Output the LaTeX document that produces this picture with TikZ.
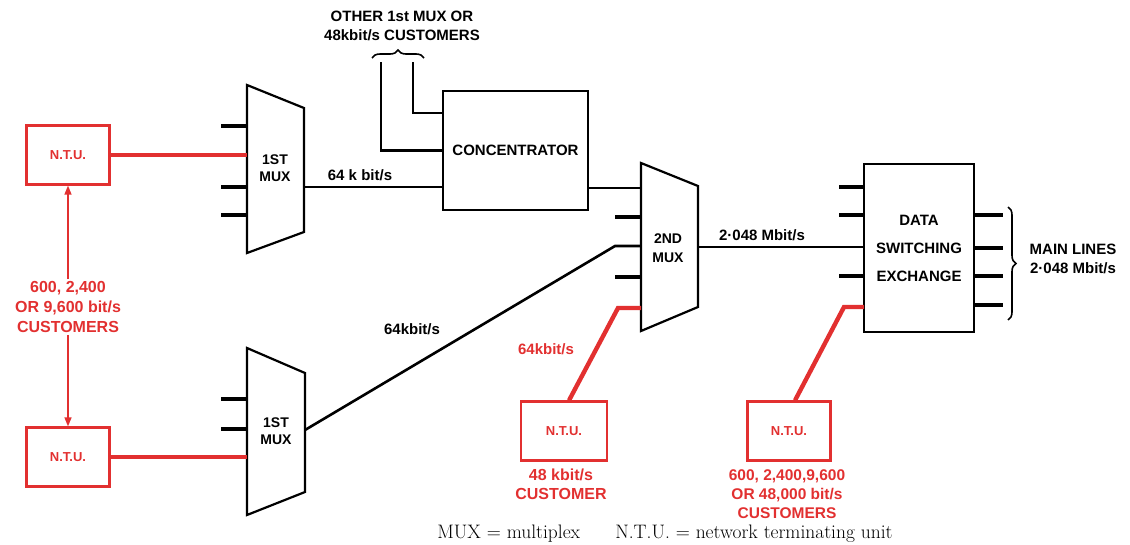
\documentclass[tikz,border=0pt]{standalone}
\usepackage{fontspec}
\newfontfamily\lbl{Liberation Sans}
\usetikzlibrary{arrows.meta,decorations.pathreplacing}
\definecolor{ntuR}{RGB}{226,48,48}

\begin{document}
\begin{tikzpicture}[
  x=1pt, y=-1pt,
  box/.style={draw, line width=2.2pt, align=center, inner sep=0pt, font=\lbl\bfseries\fontsize{15}{28}\selectfont},
  ntu/.style={draw=ntuR, text=ntuR, line width=2.2pt, minimum width=83pt, minimum height=59pt, font=\lbl\bfseries\fontsize{13}{15}\selectfont},
  mux/.style={line width=2.2pt, line join=miter},
  tag/.style={font=\lbl\bfseries\fontsize{15}{19}\selectfont, align=center, inner sep=2pt},
  rtag/.style={tag, text=ntuR},
  stub/.style={line width=3.8pt},
  wire/.style={line width=2.6pt},
  rwire/.style={draw=ntuR, line width=4.4pt},
  rarr/.style={draw=ntuR, line width=1.4pt, -{Triangle[length=9pt,width=7pt]}},
  brc/.style={decorate, decoration={brace, amplitude=8pt}, line width=1.6pt}
]
\useasboundingbox (0,0) rectangle (1130,544);

% customer side N.T.U.s
\node[ntu] (ntuA) at (68,155) {N.T.U.};
\node[ntu] (ntuB) at (68,457) {N.T.U.};
\node[rtag, font=\lbl\bfseries\fontsize{16}{20}\selectfont] (custA) at (68,307) {600, 2,400\\OR 9,600 bit/s\\CUSTOMERS};
\draw[rarr] (custA.north) -- (ntuA.south);
\draw[rarr] (custA.south) -- (ntuB.north);

% first multiplexers
\draw[mux] (247,85) -- (304,108) -- (304,232) -- (247,253) -- cycle;
\node[tag, font=\lbl\bfseries\fontsize{14}{17}\selectfont] (muxA) at (275,168) {1ST\\MUX};
\draw[mux] (247,348) -- (305,373) -- (305,492) -- (247,515) -- cycle;
\node[tag, font=\lbl\bfseries\fontsize{14}{17}\selectfont] (muxB) at (276,431) {1ST\\MUX};
\coordinate (muxA-w) at (247,154);
\coordinate (muxA-o) at (304,187);
\coordinate (muxB-w) at (247,458);
\coordinate (muxB-o) at (305,430);
\foreach \y in {126,187,215} \draw[stub] (247,\y) -- ++(-26,0);
\foreach \y in {399,429} \draw[stub] (247,\y) -- ++(-26,0);
\draw[rwire] (ntuA.east) -- (ntuA.east -| muxA-w);
\draw[rwire] (ntuB.east) -- (ntuB.east -| muxB-w);

% concentrator
\node[box, minimum width=145pt, minimum height=119pt] (conc) at (515.5,150.5) {CONCENTRATOR};
\node[tag] (other) at (402,26) {OTHER 1st MUX OR\\48kbit/s CUSTOMERS};
\coordinate (brL) at (381,62);
\coordinate (brR) at (413,62);
\draw[brc] (372,58) -- (424,58);
\draw[wire] (brL) |- (conc.west);
\draw[wire] (brR) |- ([yshift=37.5pt]conc.west);
\draw[wire] (muxA-o) -- (muxA-o -| conc.west);
\node[tag] (rateA) at (360,175) {64 k bit/s};

% second multiplexer
\draw[mux] (641,163) -- (698,186) -- (698,307) -- (641,331) -- cycle;
\node[tag, font=\lbl\bfseries\fontsize{14}{19}\selectfont] (muxC) at (668,248) {2ND\\MUX};
\coordinate (muxC-i1) at (641,188);
\coordinate (muxC-i3) at (641,246);
\coordinate (muxC-i5) at (641,308);
\coordinate (muxC-o) at (698,247);
\foreach \y in {217,277} \draw[stub] (641,\y) -- ++(-26,0);
\draw[wire] (muxC-i1 -| conc.east) -- (muxC-i1);
\draw[wire] (muxB-o) -- ([xshift=-26pt]muxC-i3) -- (muxC-i3);
\node[tag] (rateB) at (412,329) {64kbit/s};

% N.T.U. on the second multiplexer
\node[ntu, minimum width=86pt] (ntuC) at (564,431) {N.T.U.};
\node[rtag, font=\lbl\bfseries\fontsize{16}{19}\selectfont] (custC) at (561,484) {48 kbit/s\\CUSTOMER};
\draw[rwire] ([xshift=5pt]ntuC.north) -- ([xshift=-23pt]muxC-i5) -- (muxC-i5);
\node[rtag] (rateC) at (546,349) {64kbit/s};

% data switching exchange
\node[box, minimum width=110pt, minimum height=168pt] (dse) at (919,248) {DATA\\SWITCHING\\EXCHANGE};
\draw[wire] (muxC-o) -- (muxC-o -| dse.west);
\node[tag] (rateD) at (762,235) {2·048 Mbit/s};
\foreach \y in {187,215,276} \draw[stub] (864,\y) -- ++(-25,0);
\foreach \y in {215,248,276,305} \draw[stub] (974,\y) -- ++(29,0);
\draw[brc] (1008,207) -- (1008,320);
\node[tag] (mains) at (1073,259) {MAIN LINES\\2·048 Mbit/s};

% N.T.U. on the exchange
\node[ntu] (ntuD) at (789,431) {N.T.U.};
\node[rtag, inner sep=0pt, font=\lbl\bfseries\fontsize{15.5}{19}\selectfont] (custD) at (787,494) {600, 2,400,9,600\\OR 48,000 bit/s\\CUSTOMERS};
\coordinate (dse-i5) at (864,307);
\draw[rwire] ([xshift=6pt]ntuD.north) -- ([xshift=-20pt]dse-i5) -- (dse-i5);

% key
\node[inner sep=0pt, font=\fontsize{19.5}{22}\selectfont] (key) at (665,534) {MUX = multiplex\hspace{1.8em}N.T.U. = network terminating unit};
\end{tikzpicture}
\end{document}
